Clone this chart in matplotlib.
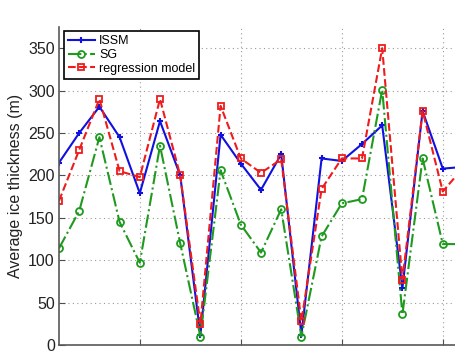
import numpy as np
import matplotlib
matplotlib.use('Agg')
import matplotlib.pyplot as plt

plt.rcParams['font.family'] = ['Liberation Sans', 'DejaVu Sans']

# sample index along the profile
idx = np.arange(1, 22)

issm = [215, 250, 281, 245, 179, 264, 200, 12, 248, 214, 183, 225, 12,
        220, 217, 237, 259, 67, 276, 208, 210]
sg = [114, 158, 245, 145, 97, 235, 120, 10, 206, 142, 109, 160, 10,
      128, 167, 172, 301, 36, 220, 119, 119]
regr = [170, 230, 290, 205, 198, 290, 200, 25, 282, 220, 203, 219, 28,
        184, 220, 220, 350, 77, 276, 181, 209]

fig = plt.figure(figsize=(4.55, 3.52), dpi=100)
ax = fig.add_axes([59 / 455, 7 / 352, 396 / 455, 318 / 352])

ax.plot(idx, issm, color='#1010e0', linestyle='-', linewidth=1.5,
        marker='+', markersize=5, markeredgewidth=1.5, label='ISSM')
ax.plot(idx, sg, color='#1f9a1f', linestyle='-.', linewidth=1.5,
        marker='o', markersize=5, markerfacecolor='none', markeredgewidth=1.3,
        label='SG')
ax.plot(idx, regr, color='#ee1c1c', linestyle='--', linewidth=1.5,
        marker='s', markersize=4.5, markerfacecolor='none', markeredgewidth=1.3,
        label='regression model')

ax.set_xlim(1, 1 + 396 / 20.2)
ax.set_ylim(0, 375)
ax.set_xticks([5, 10, 15, 20])
ax.set_xticklabels([])
ax.set_yticks(np.arange(0, 351, 50))
ax.tick_params(axis='both', direction='in', length=4, color='0.3',
               labelsize=11.5, labelcolor='#222222')
ax.tick_params(axis='y', pad=3)

for s in ['top', 'right']:
    ax.spines[s].set_visible(False)
for s in ['left', 'bottom']:
    ax.spines[s].set_color('0.35')
    ax.spines[s].set_linewidth(1.2)

ax.grid(True, linestyle=(0, (1, 3)), color='0.6', linewidth=0.8)
ax.set_axisbelow(True)

ax.set_ylabel('Average ice thickness (m)', fontsize=11.5, color='#222222',
              labelpad=4)

leg = ax.legend(loc='upper left', bbox_to_anchor=(0.0126, 0.9865),
                borderaxespad=0, fontsize=9, handlelength=2.2,
                labelspacing=0.15, handletextpad=0.3, borderpad=0.3,
                fancybox=False, framealpha=1)
leg.get_frame().set_edgecolor('black')
leg.get_frame().set_linewidth(1.2)

fig.savefig('out.png', dpi=100)
